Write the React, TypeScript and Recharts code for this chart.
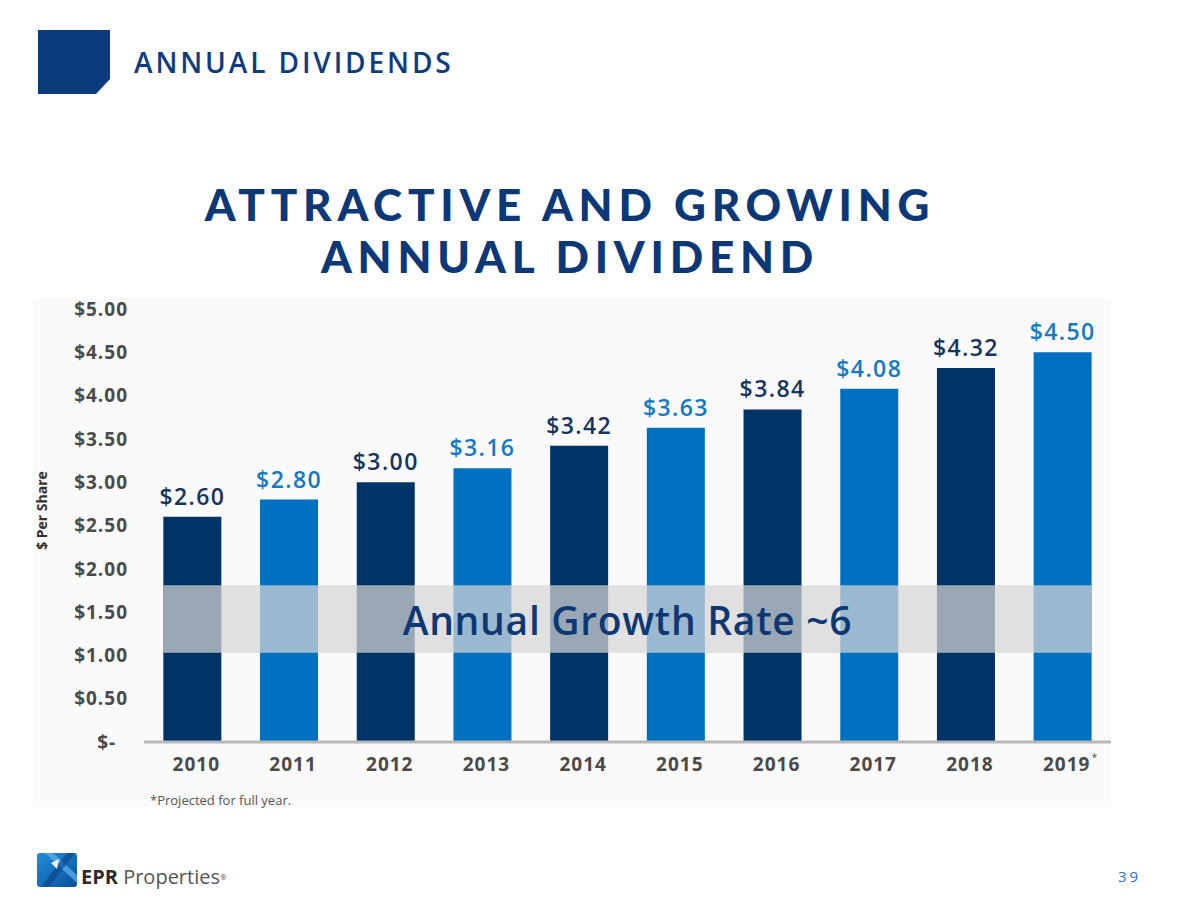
import React from 'react';
import {
  BarChart,
  Bar,
  Cell,
  XAxis,
  YAxis,
  LabelList,
  ReferenceArea,
} from 'recharts';

// Annual dividend per share
const years = ['2010', '2011', '2012', '2013', '2014', '2015', '2016', '2017', '2018', '2019'];
const dividends = [2.6, 2.8, 3.0, 3.16, 3.42, 3.63, 3.84, 4.08, 4.32, 4.5];
const projected = [false, false, false, false, false, false, false, false, false, true];
const yTicks = [0, 0.5, 1, 1.5, 2, 2.5, 3, 3.5, 4, 4.5, 5];
const growthBand = [1.03, 1.81];
const growthLabel = 'Annual Growth Rate ~6';

const NAVY = '#003366';
const BLUE = '#0070c0';
const FONT = '"Open Sans", Lato, sans-serif';

const data = years.map((year, i) => ({ year, value: dividends[i], projected: projected[i] }));

function money(v: number) {
  return v === 0 ? '$-\u00a0\u00a0' : `$${v.toFixed(2)}`;
}

function YearTick(props: any) {
  const { x, y, payload, index } = props;
  const star = projected[index];
  return (
    <g>
      <text x={x + 4} y={y} dy={15} textAnchor="middle" fill="#4a4a4a" fontSize={19} fontWeight={700} fontFamily={FONT} letterSpacing={1}>
        {payload.value}
      </text>
      {star && (
        <text x={x + 29} y={y} dy={5} textAnchor="start" fill="#4a4a4a" fontSize={10} fontFamily={FONT}>
          *
        </text>
      )}
    </g>
  );
}

function ValueLabel(props: any) {
  const { x, y, width, value, index } = props;
  return (
    <text
      x={x + width / 2}
      y={y - 12}
      textAnchor="middle"
      fill={index % 2 === 0 ? '#17335f' : '#1279c6'}
      fontSize={23}
      fontWeight={600}
      fontFamily={FONT}
      letterSpacing={1.4}
    >
      {money(value)}
    </text>
  );
}

function BandShape(props: any) {
  const { x, y, width, height } = props;
  // band stops at the outer edges of the first and last bars
  const inset = (width / years.length) * 0.2;
  return <rect x={x + inset} y={y} width={width - inset * 2} height={height} fill="#d6d6d6" fillOpacity={0.72} />;
}

function Logo() {
  return (
    <svg width={40} height={34} viewBox="0 0 40 34">
      <defs>
        <linearGradient id="lg" x1="0" y1="0" x2="1" y2="1">
          <stop offset="0" stopColor="#1f8fdc" />
          <stop offset="1" stopColor="#0b4f9c" />
        </linearGradient>
      </defs>
      <rect x={0} y={0} width={40} height={34} rx={3} fill="url(#lg)" />
      <polygon points="8,0 16,0 40,22 40,30" fill="#5db5ee" opacity={0.7} />
      <polygon points="30,0 38,0 12,34 4,34" fill="#0a3f84" opacity={0.6} />
      <polygon points="14,10 22,6 20,16" fill="#ffffff" opacity={0.9} />
    </svg>
  );
}

export default function App() {
  return (
    <div style={{ position: 'absolute', left: 0, top: 0, width: 1179, height: 907, background: '#fff', fontFamily: FONT, overflow: 'hidden' }}>
      {/* header */}
      <svg style={{ position: 'absolute', left: 38, top: 30 }} width={72} height={64}>
        <polygon points="0,0 72,0 72,49 58,64 0,64" fill="#0a3c7d" />
      </svg>
      <div style={{ position: 'absolute', left: 134, top: 44, fontSize: 28, fontWeight: 600, color: '#0d3c7f', letterSpacing: 2.9, lineHeight: '36px' }}>
        ANNUAL DIVIDENDS
      </div>

      {/* title */}
      <div
        style={{
          position: 'absolute',
          left: 0,
          width: 1140,
          top: 178,
          textAlign: 'center',
          fontFamily: 'Lato, "Open Sans", sans-serif',
          fontWeight: 900,
          fontSize: 44,
          lineHeight: '52px',
          letterSpacing: 5.8,
          color: '#0c3878',
        }}
      >
        ATTRACTIVE AND GROWING
        <br />
        ANNUAL DIVIDEND
      </div>

      {/* chart panel background */}
      <div style={{ position: 'absolute', left: 33, top: 298, width: 1078, height: 509, background: '#fafafa' }} />

      <div style={{ position: 'absolute', left: 33, top: 280, width: 1078, height: 527 }}>
        <BarChart
          width={1078}
          height={527}
          data={data}
          margin={{ top: 29, right: 0, bottom: 35, left: 11 }}
          barCategoryGap="20%"
          style={{ overflow: 'visible' }}
        >
          <XAxis
            dataKey="year"
            axisLine={{ stroke: '#b8b8b8', strokeWidth: 3 }}
            tickLine={false}
            tickMargin={8}
            height={30}
            interval={0}
            tick={<YearTick />}
          />
          <YAxis
            domain={[0, 5]}
            ticks={yTicks}
            width={100}
            axisLine={false}
            tickLine={false}
            tickMargin={10}
            tickFormatter={money}
            tick={{ fill: '#4a4a4a', fontSize: 19, fontWeight: 700, fontFamily: FONT, letterSpacing: 1 }}
            label={{
              value: '$ Per Share',
              angle: -90,
              position: 'insideLeft',
              offset: -2,
              dy: -15,
              style: { fill: '#333', fontSize: 14, fontWeight: 700, fontFamily: FONT, textAnchor: 'middle' },
            }}
          />
          <Bar dataKey="value" isAnimationActive={false}>
            {data.map((d, i) => (
              <Cell key={d.year} fill={i % 2 === 0 ? NAVY : BLUE} />
            ))}
            <LabelList dataKey="value" content={<ValueLabel />} />
          </Bar>
          <ReferenceArea
            y1={growthBand[0]}
            y2={growthBand[1]}
            shape={<BandShape />}
            ifOverflow="visible"
            zIndex={450}
            label={{
              value: growthLabel,
              position: 'center',
              fill: '#0e3873',
              fontSize: 39,
              fontWeight: 600,
              fontFamily: FONT,
              letterSpacing: 0.7,
              dy: 2,
            }}
          />
        </BarChart>
      </div>

      <div style={{ position: 'absolute', left: 150, top: 791, fontSize: 13, color: '#555' }}>*Projected for full year.</div>

      {/* footer */}
      <div style={{ position: 'absolute', left: 37, top: 853 }}>
        <Logo />
      </div>
      <div style={{ position: 'absolute', left: 81, top: 864, fontSize: 20, color: '#555', lineHeight: '26px' }}>
        <span style={{ fontWeight: 700, color: '#2b2b2b' }}>EPR</span> Properties
        <span style={{ fontSize: 8, verticalAlign: 'top' }}>®</span>
      </div>
      <div style={{ position: 'absolute', left: 1118, top: 866, fontSize: 15, color: '#2a72c2', letterSpacing: 3 }}>39</div>
    </div>
  );
}
